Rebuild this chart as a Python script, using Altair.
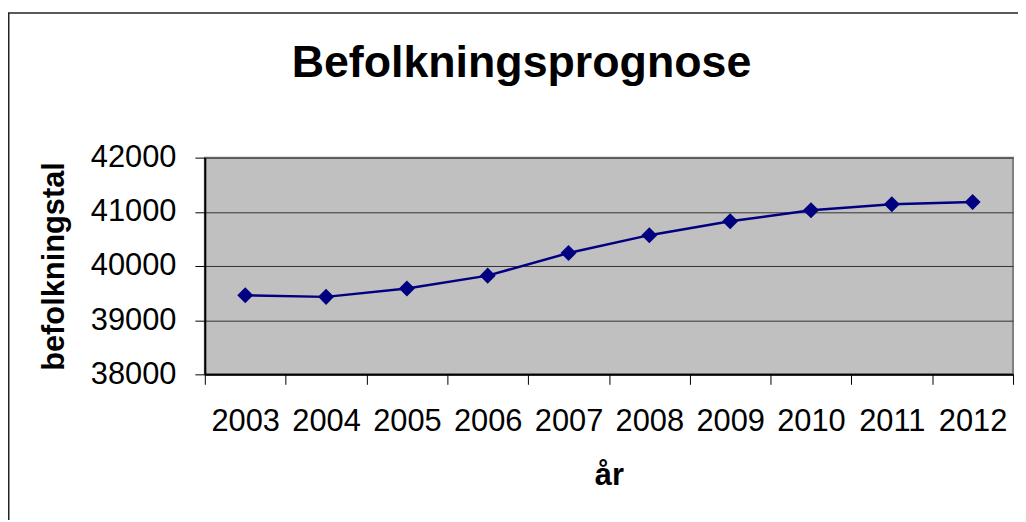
import altair as alt
import pandas as pd

years = ["2003", "2004", "2005", "2006", "2007", "2008", "2009", "2010", "2011", "2012"]
population = [39460, 39430, 39583, 39822, 40239, 40569, 40826, 41028, 41138, 41180]
y_ticks = [38000, 39000, 40000, 41000, 42000]

FONT = "Liberation Sans"

df = pd.DataFrame({"year": years, "pop": population})

x_enc = alt.X(
    "year:N",
    sort=years,
    scale=alt.Scale(type="band", paddingInner=0, paddingOuter=0),
    axis=alt.Axis(
        title="år",
        labelAngle=0,
        tickBand="extent",
        grid=False,
        tickSize=10,
        tickColor="#000000",
        domainColor="#000000",
        domainWidth=2,
        labelFont=FONT,
        labelFontSize=31,
        labelColor="#000000",
        labelPadding=22,
        titleFont=FONT,
        titleFontSize=31,
        titleFontWeight="bold",
        titleColor="#000000",
        titlePadding=25,
    ),
)
y_enc = alt.Y(
    "pop:Q",
    scale=alt.Scale(domain=[38000, 42000], nice=False, zero=False),
    axis=alt.Axis(
        title="befolkningstal",
        values=y_ticks,
        format="d",
        grid=True,
        gridColor="#333333",
        gridWidth=1,
        tickSize=10,
        tickColor="#000000",
        domainColor="#000000",
        domainWidth=2,
        labelFont=FONT,
        labelFontSize=31,
        labelColor="#000000",
        labelPadding=19,
        titleFont=FONT,
        titleFontSize=31,
        titleFontWeight="bold",
        titleColor="#000000",
        titlePadding=20,
    ),
)

line = alt.Chart(df).mark_line(
    color="#000080",
    strokeWidth=2.5,
    point=alt.OverlayMarkDef(shape="diamond", size=260, filled=True, color="#000080", opacity=1),
).encode(x=x_enc, y=y_enc)

frame_df = pd.DataFrame({"a": [0]})
frame_left = alt.Chart(frame_df).mark_rule(color="#222222", strokeWidth=1.5).encode(
    x=alt.value(-197.25), y=alt.value(-145.5), y2=alt.value(400)
)
frame_top = alt.Chart(frame_df).mark_rule(color="#222222", strokeWidth=1.5).encode(
    x=alt.value(-198), x2=alt.value(900), y=alt.value(-145.5)
)

chart = alt.layer(line, frame_left, frame_top).properties(
    width=813,
    height=218,
    background="#ffffff",
    autosize=alt.AutoSizeParams(type="none"),
    padding={"left": 198, "top": 149, "right": 5, "bottom": 145},
    title=alt.TitleParams(
        text="Befolkningsprognose",
        font=FONT,
        fontSize=45,
        fontWeight="bold",
        color="#000000",
        anchor="middle",
        dx=-88,
        offset=-74,
    ),
).configure_view(
    fill="#C0C0C0", stroke="#808080", strokeWidth=2
)

chart.save("out.html", embed_options={"renderer": "svg", "actions": False})
